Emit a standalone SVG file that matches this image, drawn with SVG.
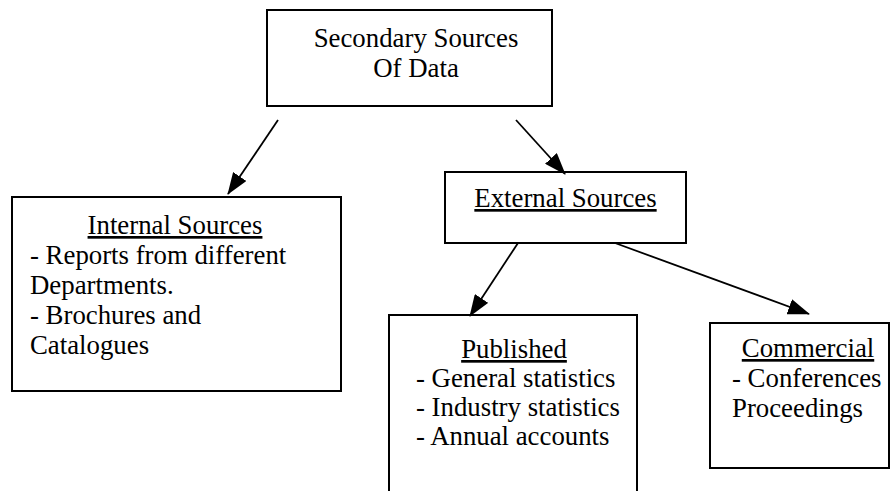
<svg xmlns="http://www.w3.org/2000/svg" width="891" height="491" viewBox="0 0 891 491">
<style>
.box{fill:#fff;stroke:#000;stroke-width:2}
.t{font-family:"Liberation Serif","Times New Roman",serif;font-size:26.8px;fill:#000}
.c{text-anchor:middle}
.u{text-decoration:underline}
.conn line{stroke:#000;stroke-width:1.8;fill:none}
</style>
<defs>
<marker id="ah" viewBox="0 0 22 16" refX="21" refY="8" markerWidth="22" markerHeight="16" markerUnits="userSpaceOnUse" orient="auto">
<path d="M0,0 L22,8 L0,16 z" fill="#000"/>
</marker>
</defs>
<rect width="891" height="491" fill="#fff"/>
<g id="secondary">
<rect class="box" x="267" y="10" width="285" height="96"/>
<text class="t c" x="416" y="47">Secondary Sources</text>
<text class="t c" x="416" y="77">Of Data</text>
</g>
<g id="internal">
<rect class="box" x="12" y="197" width="329" height="194"/>
<text class="t c u" x="175" y="234">Internal Sources</text>
<text class="t" x="30" y="264">- Reports from different</text>
<text class="t" x="30" y="294">Departments.</text>
<text class="t" x="30" y="324">- Brochures and</text>
<text class="t" x="30" y="354">Catalogues</text>
</g>
<g id="external">
<rect class="box" x="445" y="172" width="241" height="71"/>
<text class="t c u" x="565.5" y="207">External Sources</text>
</g>
<g id="published">
<rect class="box" x="389" y="315" width="248" height="190"/>
<text class="t c u" x="514" y="358">Published</text>
<text class="t" x="416" y="387">- General statistics</text>
<text class="t" x="416" y="416">- Industry statistics</text>
<text class="t" x="416" y="445">- Annual accounts</text>
</g>
<g id="commercial">
<rect class="box" x="710" y="323" width="179" height="145"/>
<text class="t c u" x="808" y="357">Commercial</text>
<text class="t" x="732" y="387">- Conferences</text>
<text class="t" x="732" y="417">Proceedings</text>
</g>
<g class="conn" id="connectors">
<line x1="278" y1="120" x2="228" y2="194" marker-end="url(#ah)"/>
<line x1="516" y1="120" x2="565" y2="174" marker-end="url(#ah)"/>
<line x1="518" y1="243" x2="470" y2="316" marker-end="url(#ah)"/>
<line x1="615" y1="243" x2="809" y2="314" marker-end="url(#ah)"/>
</g>
</svg>
